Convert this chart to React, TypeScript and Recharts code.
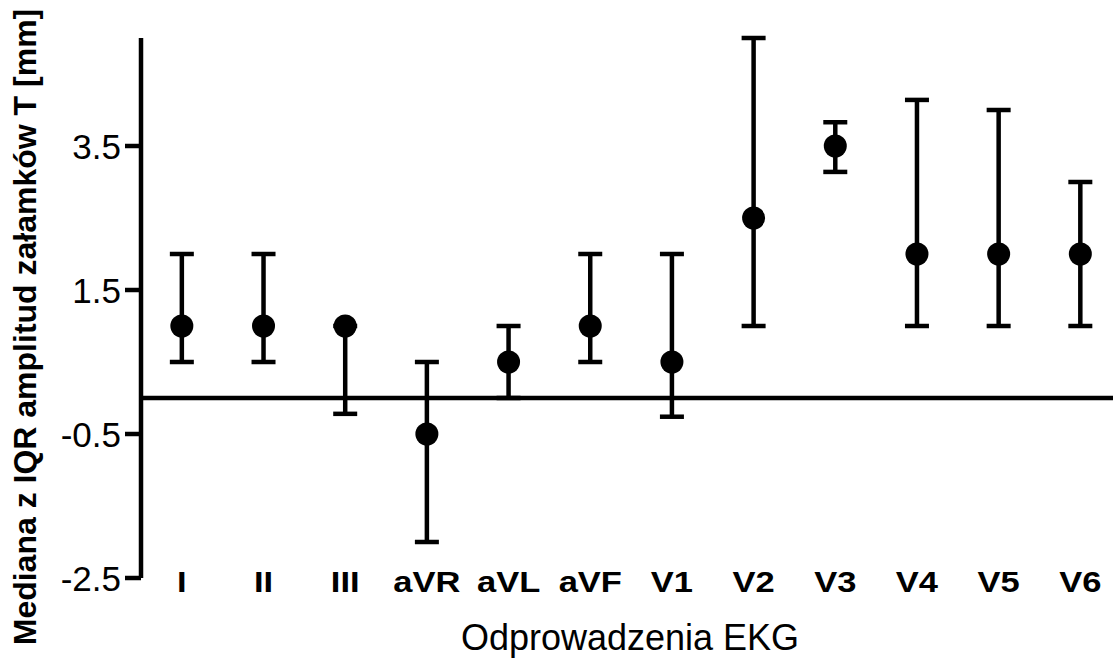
import { ScatterChart, Scatter, XAxis, YAxis, ErrorBar, ReferenceLine, Label } from "recharts";

const LEADS = ["I", "II", "III", "aVR", "aVL", "aVF", "V1", "V2", "V3", "V4", "V5", "V6"];
const MEDIANS = [1, 1, 1, -0.5, 0.5, 1, 0.5, 2.5, 3.5, 2, 2, 2];
const Q1 = [0.5, 0.5, -0.22, -2, 0, 0.5, -0.26, 1, 3.14, 1, 1, 1];
const Q3 = [2, 2, 1, 0.5, 1, 2, 2, 5, 3.83, 4.14, 4, 3];
const Y_TICKS = [-2.5, -0.5, 1.5, 3.5];

const FONT = "Arial, 'Liberation Sans', sans-serif";

const data = LEADS.map((lead, i) => ({
  idx: i,
  lead,
  median: MEDIANS[i],
  iqr: [MEDIANS[i] - Q1[i], Q3[i] - MEDIANS[i]],
}));

// lead names in the source look a bit wider than the plain bold font
const XTick = ({ x, y, payload }: any) => (
  <g transform={`translate(${x},${y + 14}) scale(1.15,1)`}>
    <text x={0} y={0} textAnchor="middle" fontFamily={FONT} fontSize={30} fontWeight="bold" fill="#000">
      {LEADS[payload.value]}
    </text>
  </g>
);

const YTick = ({ x, y, payload }: any) => (
  <text x={x} y={y} dy="0.36em" textAnchor="end" fontFamily={FONT} fontSize={35} fill="#000">
    {payload.value}
  </text>
);

const Dot = ({ cx, cy }: any) => <circle cx={cx} cy={cy} r={11.5} fill="#000" />;

export default function App() {
  return (
    <div style={{ position: "absolute", left: 0, top: 0, background: "#fff" }}>
      <ScatterChart width={1113} height={659} margin={{ top: 38, right: 0, bottom: 0, left: 0 }}>
        <XAxis
          type="number"
          dataKey="idx"
          domain={[-0.5, 11.4]}
          ticks={LEADS.map((_, i) => i)}
          interval={0}
          axisLine={false}
          tickLine={false}
          tickSize={0}
          tickMargin={0}
          height={81}
          tick={<XTick />}
        >
          <Label
            content={() => (
              <text x={630} y={650} textAnchor="middle" fontFamily={FONT} fontSize={36} fill="#000">
                Odprowadzenia EKG
              </text>
            )}
          />
        </XAxis>
        <YAxis
          type="number"
          dataKey="median"
          domain={[-2.5, 5]}
          ticks={Y_TICKS}
          interval={0}
          width={141}
          tickSize={16}
          tickMargin={4}
          axisLine={{ stroke: "#000", strokeWidth: 4.5 }}
          tickLine={{ stroke: "#000", strokeWidth: 4.5 }}
          tick={<YTick />}
        >
          <Label
            content={() => (
              <text
                x={36}
                y={327}
                transform="rotate(-90, 36, 327)"
                textAnchor="middle"
                fontFamily={FONT}
                fontSize={32}
                fontWeight="bold"
                fill="#000"
              >
                Mediana z IQR amplitud załamków T [mm]
              </text>
            )}
          />
        </YAxis>
        <ReferenceLine y={0} stroke="#000" strokeWidth={4.5} />
        <Scatter data={data} shape={<Dot />} isAnimationActive={false}>
          <ErrorBar dataKey="iqr" direction="y" width={12} strokeWidth={4.5} stroke="#000" />
        </Scatter>
      </ScatterChart>
    </div>
  );
}
